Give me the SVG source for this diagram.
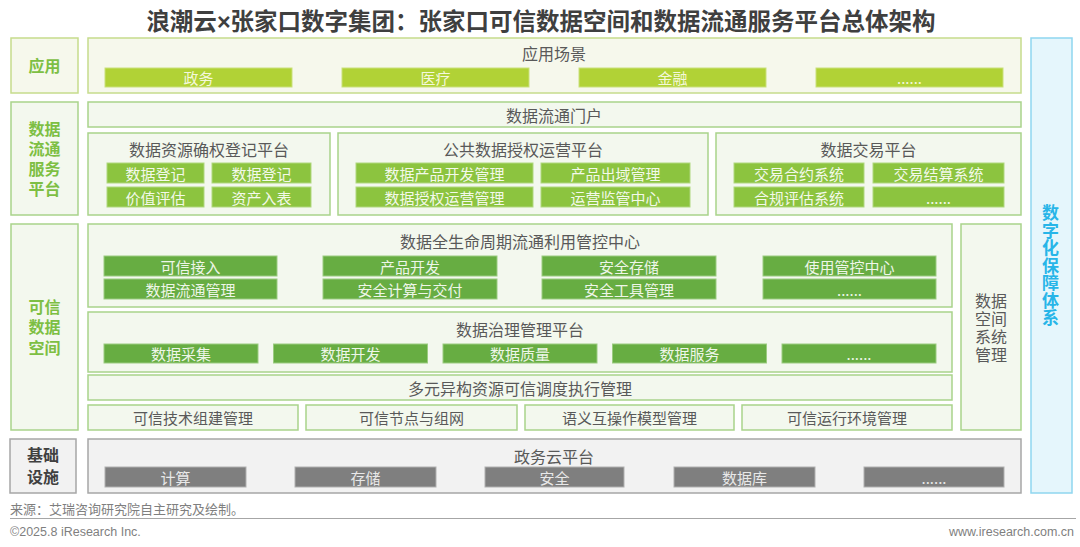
<svg xmlns="http://www.w3.org/2000/svg" width="1080" height="547" viewBox="0 0 1080 547">
<style>
text{font-family:"Noto Sans CJK SC","Liberation Sans",sans-serif;}
.title{font-size:23.5px;font-weight:bold;fill:#3f3f3f;text-anchor:middle;}
.lbl{font-size:16px;font-weight:bold;fill:#7dbf43;text-anchor:middle;}
.lblg{font-size:16px;font-weight:bold;fill:#404040;text-anchor:middle;}
.box{fill:#f3f8ee;stroke:#a9d38b;stroke-width:1.5;}
.boxy{fill:#f6f8ec;stroke:#c6dc8c;stroke-width:1.5;}
.boxg{fill:#f2f2f2;stroke:#a6a6a6;stroke-width:1.5;}
.boxb{fill:#e5f6fc;stroke:#8fd6ef;stroke-width:1.5;}
.sub{font-size:16px;fill:#595959;text-anchor:middle;dominant-baseline:central;}
.subl{font-size:16px;fill:#595959;text-anchor:middle;}
.bt{font-size:15px;fill:#595959;text-anchor:middle;dominant-baseline:central;}
.b1{fill:#b1d236;stroke:#c9e07a;stroke-width:1;}
.b2{fill:#8cc43f;stroke:#b0d77f;stroke-width:1;}
.b3{fill:#67ad42;stroke:#9bcb80;stroke-width:1;}
.b4{fill:#7f7f7f;stroke:#b0b0b0;stroke-width:1;}
.w1{font-size:15px;fill:#f4f8dc;text-anchor:middle;dominant-baseline:central;}
.w2{font-size:15px;fill:#f3f9ea;text-anchor:middle;dominant-baseline:central;}
.w3{font-size:15px;fill:#eef6e8;text-anchor:middle;dominant-baseline:central;}
.w4{font-size:15px;fill:#e8e8e8;text-anchor:middle;dominant-baseline:central;}
.blue{font-size:17px;font-weight:bold;fill:#27b5e8;text-anchor:middle;writing-mode:vertical-rl;letter-spacing:0.5px;}
.foot{font-size:13px;fill:#7f7f7f;}
.en{font-family:"Liberation Sans",Arial,sans-serif;font-size:12.5px;fill:#7f7f7f;}
</style>

<text class="title" x="541" y="30">浪潮云<tspan font-family="Liberation Sans, Arial, sans-serif">×</tspan>张家口数字集团：张家口可信数据空间和数据流通服务平台总体架构</text>

<!-- 应用 -->
<g id="label-app">
<rect class="boxy" x="11" y="38" width="67" height="55"/>
<text class="lbl" x="44.5" y="71.5">应用</text>
</g>
<g id="app-scenes">
<rect class="boxy" x="88" y="38" width="933" height="55"/>
<text class="sub" x="554" y="53">应用场景</text>
<rect class="b1" x="105" y="68" width="187" height="19"/><text class="w1" x="198.5" y="77.5">政务</text>
<rect class="b1" x="342" y="68" width="187" height="19"/><text class="w1" x="435.5" y="77.5">医疗</text>
<rect class="b1" x="579" y="68" width="187" height="19"/><text class="w1" x="672.5" y="77.5">金融</text>
<rect class="b1" x="816" y="68" width="187" height="19"/><text class="w1" x="909.5" y="77.5">......</text>
</g>

<!-- 数据流通服务平台 -->
<g id="label-circulation">
<rect class="box" x="11" y="102" width="67" height="113"/>
<text class="lbl" x="44.5" y="134.5"><tspan x="44.5" dy="0">数据</tspan><tspan x="44.5" dy="20">流通</tspan><tspan x="44.5" dy="20">服务</tspan><tspan x="44.5" dy="20">平台</tspan></text>
</g>
<g id="portal">
<rect class="box" x="88" y="102" width="933" height="25"/>
<text class="sub" x="554" y="114.5">数据流通门户</text>
</g>
<g id="registration-platform">
<rect class="box" x="88" y="133" width="242" height="82"/>
<text class="sub" x="209" y="149">数据资源确权登记平台</text>
<rect class="b2" x="107" y="163" width="97" height="20"/><text class="w2" x="155.5" y="173">数据登记</text>
<rect class="b2" x="212" y="163" width="99" height="20"/><text class="w2" x="261.5" y="173">数据登记</text>
<rect class="b2" x="107" y="187" width="97" height="20"/><text class="w2" x="155.5" y="197">价值评估</text>
<rect class="b2" x="212" y="187" width="99" height="20"/><text class="w2" x="261.5" y="197">资产入表</text>
</g>
<g id="public-data-platform">
<rect class="box" x="338" y="133" width="370" height="82"/>
<text class="sub" x="523" y="149">公共数据授权运营平台</text>
<rect class="b2" x="356" y="163" width="177" height="20"/><text class="w2" x="444.5" y="173">数据产品开发管理</text>
<rect class="b2" x="541" y="163" width="149" height="20"/><text class="w2" x="615.5" y="173">产品出域管理</text>
<rect class="b2" x="356" y="187" width="177" height="20"/><text class="w2" x="444.5" y="197">数据授权运营管理</text>
<rect class="b2" x="541" y="187" width="149" height="20"/><text class="w2" x="615.5" y="197">运营监管中心</text>
</g>
<g id="trading-platform">
<rect class="box" x="716" y="133" width="305" height="82"/>
<text class="sub" x="868.5" y="149">数据交易平台</text>
<rect class="b2" x="734" y="163" width="130" height="20"/><text class="w2" x="799" y="173">交易合约系统</text>
<rect class="b2" x="873" y="163" width="131" height="20"/><text class="w2" x="938.5" y="173">交易结算系统</text>
<rect class="b2" x="734" y="187" width="130" height="20"/><text class="w2" x="799" y="197">合规评估系统</text>
<rect class="b2" x="873" y="187" width="131" height="20"/><text class="w2" x="938.5" y="197">......</text>
</g>

<!-- 可信数据空间 -->
<g id="label-trusted-space">
<rect class="box" x="11" y="224" width="67" height="206"/>
<text class="lbl" x="44.5" y="312.5"><tspan x="44.5" dy="0">可信</tspan><tspan x="44.5" dy="20.5">数据</tspan><tspan x="44.5" dy="20.5">空间</tspan></text>
</g>
<g id="lifecycle-center">
<rect class="box" x="88" y="224" width="864" height="83"/>
<text class="sub" x="520" y="241">数据全生命周期流通利用管控中心</text>
<rect class="b3" x="104" y="256" width="173" height="20"/><text class="w3" x="190.5" y="266">可信接入</text>
<rect class="b3" x="323" y="256" width="174" height="20"/><text class="w3" x="410" y="266">产品开发</text>
<rect class="b3" x="542" y="256" width="174" height="20"/><text class="w3" x="629" y="266">安全存储</text>
<rect class="b3" x="763" y="256" width="173" height="20"/><text class="w3" x="849.5" y="266">使用管控中心</text>
<rect class="b3" x="104" y="279" width="173" height="20"/><text class="w3" x="190.5" y="289">数据流通管理</text>
<rect class="b3" x="323" y="279" width="174" height="20"/><text class="w3" x="410" y="289">安全计算与交付</text>
<rect class="b3" x="542" y="279" width="174" height="20"/><text class="w3" x="629" y="289">安全工具管理</text>
<rect class="b3" x="763" y="279" width="173" height="20"/><text class="w3" x="849.5" y="289">......</text>
</g>
<g id="governance-platform">
<rect class="box" x="88" y="312" width="864" height="60"/>
<text class="sub" x="520" y="329">数据治理管理平台</text>
<rect class="b3" x="104" y="344" width="154" height="19"/><text class="w3" x="181" y="353.5">数据采集</text>
<rect class="b3" x="273.5" y="344" width="154" height="19"/><text class="w3" x="350.5" y="353.5">数据开发</text>
<rect class="b3" x="443" y="344" width="154" height="19"/><text class="w3" x="520" y="353.5">数据质量</text>
<rect class="b3" x="612.5" y="344" width="154" height="19"/><text class="w3" x="689.5" y="353.5">数据服务</text>
<rect class="b3" x="782" y="344" width="154" height="19"/><text class="w3" x="859" y="353.5">......</text>
</g>
<g id="scheduling">
<rect class="box" x="88" y="375" width="864" height="25"/>
<text class="sub" x="520" y="387.5">多元异构资源可信调度执行管理</text>
</g>
<g id="tech-components">
<rect class="box" x="88" y="405" width="210" height="25"/>
<text class="bt" x="193" y="417.5">可信技术组建管理</text>
</g>
<g id="trusted-nodes">
<rect class="box" x="306" y="405" width="211" height="25"/>
<text class="bt" x="411.5" y="417.5">可信节点与组网</text>
</g>
<g id="semantic-model">
<rect class="box" x="525" y="405" width="209" height="25"/>
<text class="bt" x="629.5" y="417.5">语义互操作模型管理</text>
</g>
<g id="runtime-env">
<rect class="box" x="742" y="405" width="210" height="25"/>
<text class="bt" x="847" y="417.5">可信运行环境管理</text>
</g>
<g id="system-mgmt">
<rect class="box" x="961" y="224" width="60" height="206"/>
<text class="subl" x="991" y="306.5"><tspan x="991" dy="0">数据</tspan><tspan x="991" dy="18">空间</tspan><tspan x="991" dy="18">系统</tspan><tspan x="991" dy="18">管理</tspan></text>
</g>

<!-- 基础设施 -->
<g id="label-infra">
<rect class="boxg" x="10" y="439" width="66" height="54"/>
<text class="lblg" x="43" y="460.5"><tspan x="43" dy="0">基础</tspan><tspan x="43" dy="22">设施</tspan></text>
</g>
<g id="gov-cloud">
<rect class="boxg" x="88" y="439" width="933" height="54"/>
<text class="sub" x="554" y="456">政务云平台</text>
<rect class="b4" x="105" y="467" width="141" height="20"/><text class="w4" x="175.5" y="477">计算</text>
<rect class="b4" x="295" y="467" width="141" height="20"/><text class="w4" x="365.5" y="477">存储</text>
<rect class="b4" x="485" y="467" width="139" height="20"/><text class="w4" x="554.5" y="477">安全</text>
<rect class="b4" x="674" y="467" width="141" height="20"/><text class="w4" x="744.5" y="477">数据库</text>
<rect class="b4" x="864" y="467" width="140" height="20"/><text class="w4" x="934" y="477">......</text>
</g>

<!-- 数字化保障体系 -->
<g id="digital-assurance">
<rect class="boxb" x="1031" y="38" width="41" height="455"/>
<text class="blue" x="1050.5" y="265.5">数字化保障体系</text>
</g>

<g id="connectors"></g>

<!-- footer -->
<text class="foot" x="10" y="514">来源：艾瑞咨询研究院自主研究及绘制。</text>
<line x1="10" y1="518.5" x2="1076" y2="518.5" stroke="#a6a6a6" stroke-width="1"/>
<text class="en" x="10" y="536">©2025.8 iResearch Inc.</text>
<text class="en" x="1074" y="536" text-anchor="end">www.iresearch.com.cn</text>
</svg>
